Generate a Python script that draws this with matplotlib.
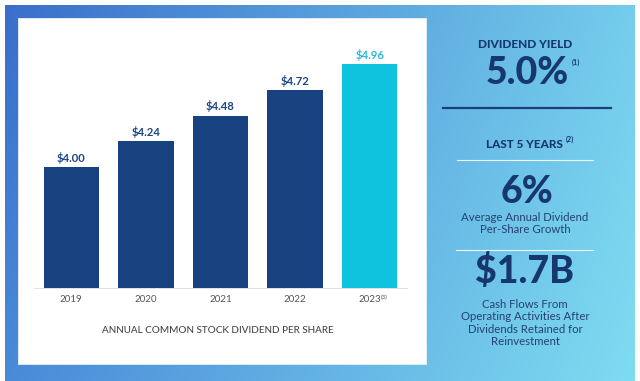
import numpy as np
import matplotlib
matplotlib.use("Agg")
import matplotlib.pyplot as plt
from matplotlib.patches import Rectangle
from matplotlib.colors import to_rgb

plt.rcParams['font.family'] = ['Lato', 'DejaVu Sans']

# ---- data ----
years = ["2019", "2020", "2021", "2022", "2023"]
dividends = [4.00, 4.24, 4.48, 4.72, 4.96]
year_notes = ["", "", "", "", "(3)"]
bar_colors = ["#17417f", "#17417f", "#17417f", "#17417f", "#0fc3de"]
label_colors = ["#1d4684", "#1d4684", "#1d4684", "#1d4684", "#2bb7d8"]
chart_title = "ANNUAL COMMON STOCK DIVIDEND PER SHARE"

yield_title = "DIVIDEND YIELD"
yield_value = "5.0%"
yield_note = "(1)"
period_title = "LAST 5 YEARS"
period_note = "(2)"
growth_value = "6%"
growth_text = "Average Annual Dividend\nPer-Share Growth"
cash_value = "$1.7B"
cash_text = "Cash Flows From\nOperating Activities After\nDividends Retained for\nReinvestment"

W, H = 640, 381
fig = plt.figure(figsize=(W / 100, H / 100), dpi=100)
fig.patch.set_facecolor("white")

# ---- background (pixel coordinates) ----
bg = fig.add_axes([0, 0, 1, 1])
bg.set_xlim(0, W)
bg.set_ylim(H, 0)
bg.axis("off")

tl, tr = np.array(to_rgb("#3a6ecb")), np.array(to_rgb("#74cdec"))
bl, br = np.array(to_rgb("#4a8ad8")), np.array(to_rgb("#7edcf1"))
nx, ny = 200, 120
u = np.linspace(0, 1, nx)[None, :, None]
v = np.linspace(0, 1, ny)[:, None, None]
grad = (1 - v) * ((1 - u) * tl + u * tr) + v * ((1 - u) * bl + u * br)
bg.imshow(grad, extent=(5, 635, 381, 5), aspect="auto", interpolation="bilinear", zorder=0)
bg.set_xlim(0, W)
bg.set_ylim(H, 0)

bg.add_patch(Rectangle((18, 18), 408, 346, facecolor="white", edgecolor="#e8eef6", lw=0.6, zorder=1))

navy = "#16386e"
text_navy = "#24436f"
bg.text(525, 44, yield_title, ha="center", va="center", fontsize=8.6, fontweight="black", color=navy, zorder=3)
bg.text(527, 73, yield_value, ha="center", va="center", fontsize=27, fontweight="black", color=navy, zorder=3)
bg.text(572, 62, yield_note, ha="left", va="center", fontsize=5.2, fontweight="bold", color=navy, zorder=3)
bg.plot([443, 611], [108, 108], color="#1a3f7c", lw=1.6, zorder=3)
bg.text(524, 144, period_title, ha="center", va="center", fontsize=8.5, fontweight="black", color=navy, zorder=3)
bg.text(566, 139, period_note, ha="left", va="center", fontsize=5.2, fontweight="bold", color=navy, zorder=3)
bg.plot([457, 593], [159.5, 159.5], color="white", lw=0.8, alpha=0.9, zorder=3)
bg.text(527, 192, growth_value, ha="center", va="center", fontsize=27, fontweight="black", color=navy, zorder=3)
bg.text(525, 223.5, growth_text, ha="center", va="center", fontsize=8.2, color=text_navy,
        linespacing=1.1, zorder=3)
bg.plot([456, 593], [249.5, 249.5], color="white", lw=0.8, alpha=0.9, zorder=3)
bg.text(525, 271, cash_value, ha="center", va="center", fontsize=27, fontweight="black", color=navy, zorder=3)
bg.text(525, 323, cash_text, ha="center", va="center", fontsize=8.2, color=text_navy,
        linespacing=1.12, zorder=3)

# ---- bar chart ----
ymin = 2.87
px_per_unit = 107
ax_top_px, ax_bot_px = 40, 288
ax = fig.add_axes([34 / W, 1 - ax_bot_px / H, 373 / W, (ax_bot_px - ax_top_px) / H])
ax.set_facecolor("none")
x = np.arange(len(years))
ax.bar(x, dividends, width=0.74, color=bar_colors, bottom=0, zorder=2)
ax.set_xlim(-0.5, len(years) - 0.5)
ax.set_ylim(ymin, ymin + (ax_bot_px - ax_top_px) / px_per_unit)
for i, val in enumerate(dividends):
    ax.annotate(f"${val:.2f}", (x[i], val), xytext=(0, 2.5), textcoords="offset points",
                ha="center", va="bottom", fontsize=8.1, fontweight="bold", color=label_colors[i])
ax.set_xticks(x)
ax.set_xticklabels(years, fontsize=7, color="#555555")
ax.tick_params(axis="x", length=0, pad=5.2)
ax.set_yticks([])
for s in ["left", "right", "top"]:
    ax.spines[s].set_visible(False)
ax.spines["bottom"].set_color("#e2e2e2")
ax.spines["bottom"].set_linewidth(0.7)
for i, note in enumerate(year_notes):
    if note:
        ax.annotate(note, (x[i], ymin), xytext=(8.2, -7), textcoords="offset points",
                    ha="left", va="center", fontsize=4.3, color="#555555")

fig.text(218 / W, 1 - 330.5 / H, chart_title, ha="center", va="center", fontsize=7.1,
         color="#454545", fontweight="medium")

fig.savefig("out.png", dpi=100)
